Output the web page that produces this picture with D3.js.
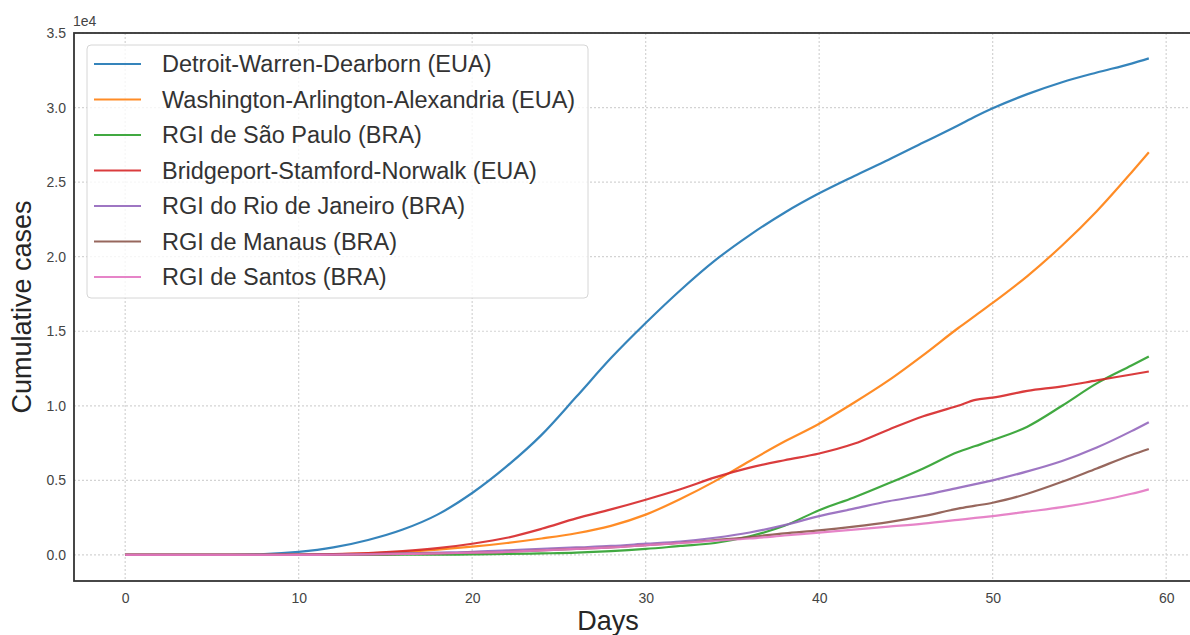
<!DOCTYPE html>
<html>
<head>
<meta charset="utf-8">
<script src="https://cdn.jsdelivr.net/npm/d3@7"></script>
<style>
  body { margin: 0; background: #fff; }
  text { font-family: "Liberation Sans", Arial, sans-serif; }
</style>
</head>
<body>
<div id="chart"></div>
<script>
// days
var days = [0, 2, 4, 6, 8, 10, 12, 14, 16, 18, 20, 22, 24, 26, 28, 30, 32, 34, 36, 38, 40, 42, 44, 46, 48, 49, 50, 52, 54, 56, 58, 59];

var detroit = [0, 0, 0, 10, 50, 200, 500, 1000, 1700, 2700, 4150, 5950, 8050, 10600, 13200, 15550, 17750, 19750, 21450, 22950, 24250, 25400, 26500, 27650, 28800, 29400, 29950, 30900, 31700, 32350, 32950, 33300];
var washington = [0, 0, 0, 0, 0, 10, 50, 100, 200, 350, 550, 800, 1100, 1450, 1950, 2700, 3750, 4950, 6300, 7600, 8800, 10200, 11700, 13400, 15200, 16050, 16900, 18700, 20750, 23050, 25650, 27000];
var saoPaulo = [0, 0, 0, 0, 0, 0, 0, 5, 10, 20, 30, 60, 100, 150, 250, 400, 600, 800, 1250, 1950, 3000, 3850, 4800, 5800, 6900, 7300, 7700, 8600, 10000, 11500, 12700, 13300];
var bridgeport = [0, 0, 0, 0, 0, 20, 50, 120, 250, 450, 750, 1150, 1750, 2450, 3050, 3700, 4400, 5200, 5850, 6350, 6800, 7450, 8400, 9300, 10000, 10400, 10550, 11000, 11300, 11700, 12100, 12300];
var rio = [0, 0, 0, 0, 0, 10, 20, 50, 100, 150, 200, 300, 400, 500, 600, 750, 900, 1150, 1500, 2000, 2600, 3100, 3600, 4000, 4500, 4750, 5000, 5600, 6300, 7200, 8300, 8900];
var manaus = [0, 0, 0, 0, 0, 0, 10, 30, 60, 100, 150, 200, 300, 400, 500, 650, 800, 1000, 1200, 1450, 1650, 1900, 2200, 2600, 3100, 3300, 3500, 4100, 4900, 5800, 6700, 7100];
var santos = [0, 0, 0, 0, 0, 0, 10, 30, 60, 100, 150, 200, 300, 400, 500, 650, 800, 950, 1100, 1300, 1500, 1700, 1900, 2100, 2350, 2480, 2600, 2900, 3200, 3600, 4100, 4400];

var labels = ["Detroit-Warren-Dearborn (EUA)", "Washington-Arlington-Alexandria (EUA)", "RGI de São Paulo (BRA)",
  "Bridgeport-Stamford-Norwalk (EUA)", "RGI do Rio de Janeiro (BRA)", "RGI de Manaus (BRA)", "RGI de Santos (BRA)"];
var colors = ["#1f77b4", "#ff7f0e", "#2ca02c", "#d62728", "#9467bd", "#8c564b", "#e377c2"];
var seriesValues = [detroit, washington, saoPaulo, bridgeport, rio, manaus, santos];

var xTicks = [0, 10, 20, 30, 40, 50, 60];
var yTicks = [0, 5000, 10000, 15000, 20000, 25000, 30000, 35000];

var svgWidth = 1190;
var svgHeight = 635;
var plot = { left: 74, right: 1200, top: 33, bottom: 581 };

var svg = d3.select("#chart").append("svg")
  .attr("width", svgWidth)
  .attr("height", svgHeight);

var x = d3.scaleLinear().domain([-2.95, 61.95]).range([plot.left, plot.right]);
var y = d3.scaleLinear().domain([-1750, 35000]).range([plot.bottom, plot.top]);

// grid
svg.append("g").selectAll("line")
  .data(xTicks).enter().append("line")
  .attr("x1", d => x(d)).attr("x2", d => x(d))
  .attr("y1", plot.top).attr("y2", plot.bottom)
  .attr("stroke", "#d3d3d3").attr("stroke-width", 1.2)
  .attr("stroke-dasharray", "2,2");
svg.append("g").selectAll("line")
  .data(yTicks).enter().append("line")
  .attr("x1", plot.left).attr("x2", plot.right)
  .attr("y1", d => y(d)).attr("y2", d => y(d))
  .attr("stroke", "#d3d3d3").attr("stroke-width", 1.2)
  .attr("stroke-dasharray", "2,2");

// axes (labels only, no visible tick marks)
var bottomAxis = d3.axisBottom(x).tickValues(xTicks).tickSize(0).tickPadding(12);
var leftAxis = d3.axisLeft(y).tickValues(yTicks).tickSize(0).tickPadding(8)
  .tickFormat(d => (d / 10000).toFixed(1));

var gx = svg.append("g")
  .attr("transform", `translate(0, ${plot.bottom})`)
  .call(bottomAxis);
var gy = svg.append("g")
  .attr("transform", `translate(${plot.left}, 0)`)
  .call(leftAxis);
[gx, gy].forEach(function(g) {
  g.select(".domain").remove();
  g.selectAll("text").attr("font-size", "14px").attr("fill", "#444")
    .style("font-family", "'Liberation Sans', Arial, sans-serif");
});

svg.append("text")
  .attr("x", plot.left - 1)
  .attr("y", 26)
  .attr("font-size", "14px")
  .attr("fill", "#444")
  .text("1e4");

// lines
svg.append("clipPath").attr("id", "clip")
  .append("rect")
  .attr("x", plot.left).attr("y", plot.top)
  .attr("width", plot.right - plot.left).attr("height", plot.bottom - plot.top);

var line = d3.line()
  .x((d, i) => x(days[i]))
  .y(d => y(d))
  .curve(d3.curveMonotoneX);

svg.append("g").attr("clip-path", "url(#clip)")
  .selectAll("path")
  .data(seriesValues).enter().append("path")
  .attr("d", d => line(d))
  .attr("fill", "none")
  .attr("stroke", (d, i) => colors[i])
  .attr("stroke-width", 2.2)
  .attr("stroke-opacity", 0.9)
  .attr("stroke-linejoin", "round");

// frame
svg.append("rect")
  .attr("x", plot.left).attr("y", plot.top)
  .attr("width", plot.right - plot.left).attr("height", plot.bottom - plot.top)
  .attr("fill", "none")
  .attr("stroke", "#333")
  .attr("stroke-width", 1.8);

// legend
var legend = svg.append("g").attr("transform", "translate(87, 45)");
legend.append("rect")
  .attr("width", 501).attr("height", 253)
  .attr("rx", 4)
  .attr("fill", "#fff").attr("fill-opacity", 0.8)
  .attr("stroke", "#d6d6d6").attr("stroke-width", 1);

var rows = legend.selectAll("g.row")
  .data(labels).enter().append("g")
  .attr("class", "row")
  .attr("transform", (d, i) => `translate(0, ${19 + i * 35.5})`);
rows.append("line")
  .attr("x1", 7).attr("x2", 54)
  .attr("stroke", (d, i) => colors[i])
  .attr("stroke-width", 2.2)
  .attr("stroke-opacity", 0.9);
rows.append("text")
  .attr("x", 75)
  .attr("dy", "0.35em")
  .attr("font-size", "23.5px")
  .attr("fill", "#333")
  .text(d => d);

// axis titles
svg.append("text")
  .attr("x", 608)
  .attr("y", 630)
  .attr("text-anchor", "middle")
  .attr("font-size", "27px")
  .attr("fill", "#262626")
  .text("Days");

svg.append("text")
  .attr("transform", "rotate(-90)")
  .attr("x", -307)
  .attr("y", 31)
  .attr("text-anchor", "middle")
  .attr("font-size", "27px")
  .attr("fill", "#262626")
  .text("Cumulative cases");
</script>
</body>
</html>
